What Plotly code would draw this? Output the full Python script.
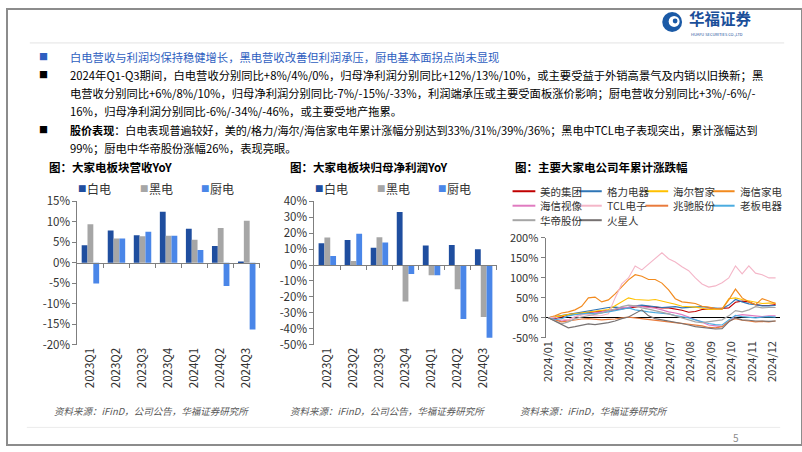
import plotly.graph_objects as go

W, H = 802, 452
# the photographed page shows a slight vertical compression; positions below are
# measured on the reference picture and mapped back to page pixels
def X(px): return px / W
def Y(py): return 1 - ((py - 9) / 0.966) / H

FONT = "Noto Sans CJK SC"

# ---------------- data ----------------
quarters = ["2023Q1", "2023Q2", "2023Q3", "2023Q4", "2024Q1", "2024Q2", "2024Q3"]
bar_names = ["白电", "黑电", "厨电"]
bar_colors = ["#1F4E9F", "#A6A6A6", "#4A86E8"]

rev_white = [4.3, 7.9, 6.7, 12.5, 8.3, 4.1, 0.2]
rev_black = [9.4, 5.9, 6.5, 6.6, 5.6, 8.5, 10.3]
rev_kitchen = [-5.1, 5.9, 7.6, 6.6, 3.1, -5.7, -16.3]

np_white = [13.7, 15.8, 10.9, 33.3, 12.2, 12.6, 9.9]
np_black = [17.3, 2.5, 17.5, -23.0, -6.5, -15.2, -32.7]
np_kitchen = [5.7, 19.6, 14.1, -5.7, -6.5, -34.0, -45.7]

dates = ["2024-01-01", "2024-01-11", "2024-01-21", "2024-01-31", "2024-02-10", "2024-02-20",
         "2024-03-01", "2024-03-11", "2024-03-21", "2024-03-31", "2024-04-10", "2024-04-20",
         "2024-04-30", "2024-05-10", "2024-05-20", "2024-05-30", "2024-06-09", "2024-06-19",
         "2024-06-29", "2024-07-09", "2024-07-19", "2024-07-29", "2024-08-08", "2024-08-18",
         "2024-08-28", "2024-09-07", "2024-09-17", "2024-09-27", "2024-10-07", "2024-10-17",
         "2024-10-27", "2024-11-06", "2024-11-16", "2024-11-26", "2024-12-06"]

midea = [0, -2, 2, 8, 10, 12, 14, 15, 17, 18, 20, 22, 25, 27, 29, 28, 26, 25, 25, 22, 19, 14,
         16, 21, 22, 22, 23, 25, 39, 42, 40, 33, 31, 31, 33]
gree = [0, 3, 6, 8, 12, 14, 17, 20, 24, 26, 27, 25, 26, 30, 32, 30, 28, 26, 27, 28, 25, 26,
        27, 28, 26, 24, 23, 32, 46, 40, 35, 33, 30, 30, 31]
haier = [0, 2, 5, 8, 10, 12, 14, 16, 19, 21, 30, 40, 50, 46, 45, 44, 46, 42, 39, 34, 29, 28,
         27, 24, 21, 22, 22, 48, 50, 46, 43, 40, 36, 37, 37]
hisense_ha = [0, 5, 12, 15, 20, 29, 50, 52, 40, 45, 60, 77, 95, 108, 104, 96, 96, 87, 70, 48,
              40, 38, 36, 29, 27, 23, 22, 45, 72, 50, 40, 33, 48, 42, 36]
hisense_vis = [0, -3, -8, -5, 2, 8, 10, 12, 15, 18, 22, 25, 27, 30, 28, 26, 24, 20, 15, 12, 8,
               2, -5, -12, -18, -20, -22, -10, 5, 8, 6, 4, 3, 5, 5]
tcl = [0, 2, -3, -5, 3, 8, 8, 5, 6, 10, 50, 85, 100, 130, 120, 135, 150, 163, 148, 140, 128,
       118, 100, 85, 77, 80, 88, 100, 130, 110, 130, 112, 108, 100, 100]
mtc = [0, -5, -10, -8, -5, -3, -2, -3, -5, -4, -3, 0, 2, 0, -2, -4, -6, -8, -10, -12, -14, -16,
       -18, -20, -24, -25, -22, -8, -2, -6, -8, -10, -9, -10, -8]
robam = [0, -4, -2, 5, 8, 10, 12, 10, 12, 15, 18, 22, 25, 20, 17, 15, 13, 12, 10, 6, 3, 0, -5,
         -10, -14, -17, -18, -5, 6, 3, 2, 0, 2, 3, 2]
vatti = [0, -8, -15, -10, -2, 2, 5, 8, 12, 18, 22, 28, 32, 30, 25, 22, 18, 15, 10, 5, 0, -5,
         -10, -12, -10, -8, -5, 5, 18, 15, 20, 28, 25, 26, 26]
marssenger = [0, -8, -18, -25, -22, -18, -15, -17, -15, -12, -8, -2, 2, 10, 20, 5, -2, -5, -8,
              -10, -14, -18, -22, -24, -26, -28, -27, -10, 0, -5, -6, -8, -8, -9, -8]

line_names = ["美的集团", "格力电器", "海尔智家", "海信家电", "海信视像",
              "TCL电子", "兆驰股份", "老板电器", "华帝股份", "火星人"]
line_colors = ["#C00000", "#2E75B6", "#FFC000", "#F28A1E", "#E07BC0",
               "#F4B6C8", "#E97B3C", "#4BACE0", "#A6A6A6", "#767171"]
line_values = [midea, gree, haier, hisense_ha, hisense_vis, tcl, mtc, robam, vatti, marssenger]

# ---------------- layout geometry ----------------
dom1_x = [X(71), X(255)]
dom2_x = [X(310), X(494)]
dom3_x = [X(543.3), X(779.4)]
dom12_y = [Y(345), Y(201.7)]
dom3_y = [Y(338.3), Y(238.3)]
r1 = [-20, 15]
r2 = [-50, 40]
r3 = [-50, 200]

AX = "#7F7F7F"
TXT = "#333333"

fig = go.Figure()

for name, vals, col in zip(bar_names, [rev_white, rev_black, rev_kitchen], bar_colors):
    fig.add_trace(go.Bar(x=quarters, y=vals, name=name, marker_color=col,
                         marker_line_width=0, xaxis="x", yaxis="y", showlegend=False))
for name, vals, col in zip(bar_names, [np_white, np_black, np_kitchen], bar_colors):
    fig.add_trace(go.Bar(x=quarters, y=vals, name=name, marker_color=col,
                         marker_line_width=0, xaxis="x2", yaxis="y2", showlegend=False))
for name, vals, col in zip(line_names, line_values, line_colors):
    fig.add_trace(go.Scatter(x=dates, y=vals, name=name, mode="lines",
                             line=dict(color=col, width=1.15), xaxis="x3", yaxis="y3",
                             showlegend=False))

# helper invisible traces so the zero-crossing category axes are drawn
fig.add_trace(go.Scatter(x=[0], y=[0], xaxis="x4", yaxis="y", mode="markers",
                         marker=dict(opacity=0), hoverinfo="skip", showlegend=False))
fig.add_trace(go.Scatter(x=[0], y=[0], xaxis="x5", yaxis="y2", mode="markers",
                         marker=dict(opacity=0), hoverinfo="skip", showlegend=False))

def zero_pos(dom, rng):
    return dom[0] + (0 - rng[0]) / (rng[1] - rng[0]) * (dom[1] - dom[0])

def yaxis(dom, rng, step, anchor):
    vals = list(range(rng[0], rng[1] + 1, step))
    return dict(domain=dom, range=rng, anchor=anchor, tickvals=vals,
                ticktext=[f"{v}%" for v in vals], showline=True, linecolor=AX,
                ticks="outside", ticklen=4, tickcolor=AX, showgrid=False, zeroline=False,
                tickfont=dict(size=11.5, color=TXT, family=FONT))

def cat_xaxis(dom, anchor):
    return dict(domain=dom, anchor=anchor, type="category", showline=False, ticks="",
                tickangle=-90, showgrid=False, zeroline=False,
                tickfont=dict(size=11.5, color=TXT, family=FONT))

def zero_axis(over, dom_y, rng):
    n = len(quarters)
    return dict(overlaying=over, anchor="free", position=zero_pos(dom_y, rng),
                range=[-0.5, n - 0.5], tickvals=[i + 0.5 for i in range(n)],
                showticklabels=False, ticks="outside", ticklen=4, tickcolor=AX,
                showline=True, linecolor=AX, showgrid=False, zeroline=False)

fig.update_layout(
    width=W, height=H, margin=dict(l=0, r=0, t=0, b=0),
    paper_bgcolor="white", plot_bgcolor="white",
    font=dict(family=FONT, color=TXT),
    barmode="group", bargap=0.33, bargroupgap=0,
    xaxis=cat_xaxis(dom1_x, "y"),
    yaxis=yaxis(dom12_y, r1, 5, "x"),
    xaxis2=cat_xaxis(dom2_x, "y2"),
    yaxis2=yaxis(dom12_y, r2, 10, "x2"),
    xaxis3=dict(domain=dom3_x, anchor="y3", type="date",
                range=["2023-12-28", "2024-12-12"], tick0="2024-01-01", dtick="M1",
                tickformat="%Y/%m", tickangle=-90, ticks="", showline=False, showgrid=False,
                tickfont=dict(size=11, color=TXT, family=FONT)),
    yaxis3=dict(domain=dom3_y, range=r3, anchor="x3",
                tickvals=list(range(r3[0], r3[1] + 1, 50)),
                ticktext=[f"{v}%" for v in range(r3[0], r3[1] + 1, 50)],
                showline=True, linecolor=AX, ticks="outside", ticklen=4, tickcolor=AX,
                showgrid=False, zeroline=True, zerolinecolor="#000000", zerolinewidth=1,
                tickfont=dict(size=11, color=TXT, family=FONT)),
    xaxis4=zero_axis("x", dom12_y, r1),
    xaxis5=zero_axis("x2", dom12_y, r2),
)

ann = []
shapes = []

def text(x, y, s, size=12, color="#000000", xanchor="left", yanchor="middle"):
    ann.append(dict(x=X(x), y=Y(y), xref="paper", yref="paper", text=s, showarrow=False,
                    xanchor=xanchor, yanchor=yanchor,
                    font=dict(family=FONT, size=size, color=color)))

# slide frame and separators
shapes.append(dict(type="rect", xref="paper", yref="paper", x0=0, y0=0, x1=1, y1=1,
                   line=dict(color="#8C8C8C", width=2)))
shapes.append(dict(type="line", xref="paper", yref="paper", x0=X(23), x1=X(784),
                   y0=Y(43), y1=Y(43), line=dict(color="#E3E3E3", width=1)))
shapes.append(dict(type="line", xref="paper", yref="paper", x0=X(20), x1=X(780),
                   y0=Y(428), y1=Y(428), line=dict(color="#EBEBEB", width=1)))

# logo
for (cx, cy, r, col) in [(671, 22, 10, "#1B5AA6"), (673, 21.5, 5.5, "white"), (674, 21, 2.4, "#1B5AA6")]:
    shapes.append(dict(type="circle", xref="paper", yref="paper",
                       x0=X(cx - r), x1=X(cx + r), y0=Y(cy + r), y1=Y(cy - r),
                       fillcolor=col, line=dict(width=0)))
text(686, 18, "<b>华福证券</b>", size=15.5, color="#1B4F9A")
text(688, 34, "HUAFU SECURITIES CO.,LTD", size=4, color="#1B4F9A")

# body text
BLUE = "#2E5EC0"
body = [
    (57, BLUE, BLUE, 11.3, "白电营收与利润均保持稳健增长，黑电营收改善但利润承压，厨电基本面拐点尚未显现"),
    (75, "#000000", "#000000", 11.3, "2024年Q1-Q3期间，白电营收分别同比+8%/4%/0%，归母净利润分别同比+12%/13%/10%，或主要受益于外销高景气及内销以旧换新；黑"),
    (93, None, "#000000", 11.3, "电营收分别同比+6%/8%/10%，归母净利润分别同比-7%/-15%/-33%，利润端承压或主要受面板涨价影响；厨电营收分别同比+3%/-6%/-"),
    (111, None, "#000000", 11.3, "16%，归母净利润分别同比-6%/-34%/-46%，或主要受地产拖累。"),
    (130, "#000000", "#000000", 11.05, "<b>股价表现</b>：白电表现普遍较好，美的/格力/海尔/海信家电年累计涨幅分别达到33%/31%/39%/36%；黑电中TCL电子表现突出，累计涨幅达到"),
    (148, None, "#000000", 11.3, "99%；厨电中华帝股份涨幅26%，表现亮眼。"),
]
for y, bcol, tcol, fs, s in body:
    if bcol:
        text(37, y, "■", size=9, color=bcol, xanchor="center")
    text(62, y, s, size=fs, color=tcol)

# chart titles
text(40, 167.5, "<b>图：大家电板块营收YoY</b>", size=11.5)
text(283, 167.5, "<b>图：大家电板块归母净利润YoY</b>", size=11.5)
text(510, 167.5, "<b>图：主要大家电公司年累计涨跌幅</b>", size=11.5)

# bar legends
for x0 in (70, 309):
    for i, (nm, col) in enumerate(zip(bar_names, bar_colors)):
        xx = x0 + i * 62
        text(xx, 188.5, "■", size=8.5, color=col)
        text(xx + 9, 188.5, nm, size=12, color=TXT)

# line legend
for i, (nm, col) in enumerate(zip(line_names, line_colors)):
    r, c = divmod(i, 4)
    lx = 510 + c * 67
    ly = 191.5 + r * 14.5
    shapes.append(dict(type="line", xref="paper", yref="paper", x0=X(lx), x1=X(lx + 23),
                       y0=Y(ly), y1=Y(ly), line=dict(color=col, width=2)))
    text(lx + 26, ly, nm, size=10.5, color=TXT)

# sources
SRC = "#595959"
text(45, 411.5, "<i>资料来源：iFinD，公司公告，华福证券研究所</i>", size=9.5, color=SRC)
text(283, 411.5, "<i>资料来源：iFinD，公司公告，华福证券研究所</i>", size=9.5, color=SRC)
text(516, 411.5, "<i>资料来源：iFinD，华福证券研究所</i>", size=9.5, color=SRC)

text(735, 438, "5", size=10, color="#8C8C8C", xanchor="center")

fig.update_layout(annotations=ann, shapes=shapes)
fig.write_html("out.html", config={"displayModeBar": False},
               post_script="document.body.style.margin='0px';document.body.style.overflow='hidden';")
